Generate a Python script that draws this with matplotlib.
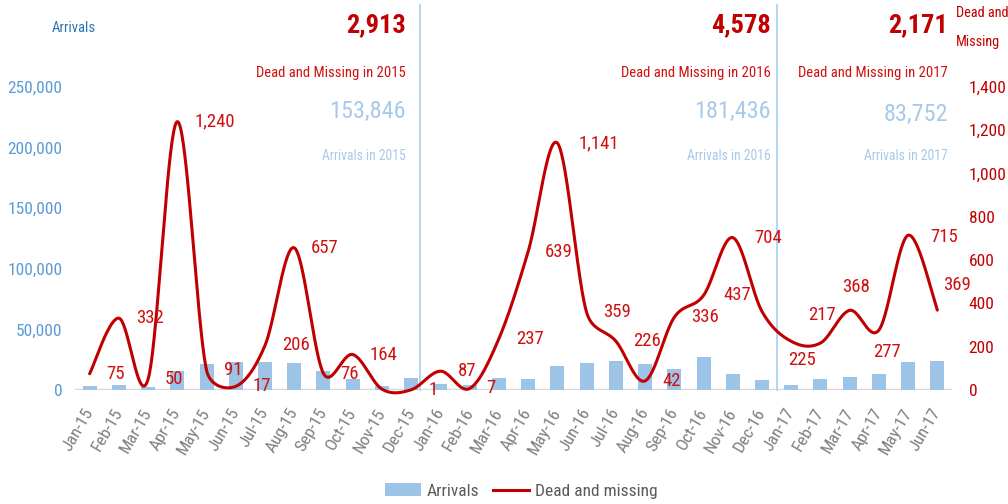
import matplotlib
matplotlib.use("Agg")
import matplotlib.pyplot as plt
from matplotlib import font_manager
from matplotlib.patches import Patch
from matplotlib.lines import Line2D
import numpy as np

# ---------------- data ----------------
months = ["Jan-15", "Feb-15", "Mar-15", "Apr-15", "May-15", "Jun-15", "Jul-15", "Aug-15",
          "Sep-15", "Oct-15", "Nov-15", "Dec-15",
          "Jan-16", "Feb-16", "Mar-16", "Apr-16", "May-16", "Jun-16", "Jul-16", "Aug-16",
          "Sep-16", "Oct-16", "Nov-16", "Dec-16",
          "Jan-17", "Feb-17", "Mar-17", "Apr-17", "May-17", "Jun-17"]
arrivals = [3528, 4354, 2283, 16063, 21231, 22877, 23210, 22610, 15922, 8916, 3218, 9636,
            5273, 3828, 9676, 9149, 19957, 22371, 23552, 21294, 16975, 27384, 13581, 8428,
            4467, 8971, 10853, 12943, 22993, 23526]
dead_missing = [75, 332, 50, 1240, 91, 17, 206, 657, 76, 164, 4, 1,
                87, 7, 237, 639, 1141, 359, 226, 42, 336, 437, 704, 363,
                225, 217, 368, 277, 715, 369]
years = ["2015", "2016", "2017"]
dead_totals = ["2,913", "4,578", "2,171"]
arrival_totals = ["153,846", "181,436", "83,752"]
left_ticks = [0, 50000, 100000, 150000, 200000, 250000]
right_ticks = [0, 200, 400, 600, 800, 1000, 1200, 1400]

# ---------------- font: prefer a condensed face ----------------
entries = font_manager.fontManager.ttflist
chosen = None
for key in ["LiberationSansNarrow", "RobotoCondensed", "Roboto_Condensed", "NotoSans-Condensed",
            "NotoSansCondensed", "OpenSans-Condensed", "OpenSans_Condensed", "DejaVuSansCondensed"]:
    for f in entries:
        fn = f.fname.replace(" ", "")
        if key.lower() in fn.lower() and f.style == "normal":
            chosen = f
            break
    if chosen:
        break
if chosen is not None:
    plt.rcParams["font.family"] = [chosen.name, "DejaVu Sans"]
    plt.rcParams["font.stretch"] = chosen.stretch
else:
    plt.rcParams["font.family"] = ["Lato", "DejaVu Sans"]

RED = "#C00000"
LRED = "#D01010"
BLUE_BAR = "#9DC3E6"
BLUE_TXT = "#5B9BD5"
BLUE_BIG = "#A7C9EA"
GREY = "#7F7F7F"

W, H = 1008, 504
fig = plt.figure(figsize=(W / 100, H / 100), dpi=100)
ax_l, ax_r, ax_t, ax_b = 75, 952, 87, 390
ax = fig.add_axes([ax_l / W, 1 - ax_b / H, (ax_r - ax_l) / W, (ax_b - ax_t) / H])
ax2 = ax.twinx()

x = np.arange(len(months))
ax.bar(x, arrivals, width=0.48, color=BLUE_BAR, zorder=2)
ax.set_xlim(-0.5, len(months) - 0.5)
ax.set_ylim(0, 250000)
ax.set_yticks(left_ticks)
ax.set_yticklabels([f"{v:,}" for v in left_ticks], color=BLUE_TXT, fontsize=12.5)
ax.set_xticks(x)
ax.set_xticklabels(months, rotation=60, ha="right", va="center",
                   rotation_mode="anchor", color=GREY, fontsize=12.5)
ax.tick_params(axis="x", length=0, pad=14)
ax.tick_params(axis="y", length=0, pad=9)
ax.axhline(0, color="#D9D9D9", lw=2.5, zorder=1)
for s in ax.spines.values():
    s.set_visible(False)
for s in ax2.spines.values():
    s.set_visible(False)

ax2.set_ylim(0, 1400)
ax2.set_xlim(-0.5, len(months) - 0.5)

# Excel-like smoothed line, built in pixel space through the data points
def smooth_path(axis, xs, ys, n=40, tension=1.0 / 6.0):
    pts = axis.transData.transform(np.column_stack([xs, ys]).astype(float))
    N = len(pts)
    dist = lambda a, b: float(np.hypot(*(b - a)))
    out = []
    for i in range(N - 1):
        p0 = pts[max(i - 1, 0)]; p1 = pts[i]; p2 = pts[i + 1]; p3 = pts[min(i + 2, N - 1)]
        d12 = dist(p1, p2)
        d02 = dist(p0, p2); d13 = dist(p1, p3)
        f1 = min(tension, 0.5 * d12 / d02) if d02 > 0 else tension
        f2 = min(tension, 0.5 * d12 / d13) if d13 > 0 else tension
        c1 = p1 + (p2 - p0) * f1
        c2 = p2 - (p3 - p1) * f2
        t = np.linspace(0, 1, n)[:, None]
        seg = ((1 - t) ** 3) * p1 + 3 * ((1 - t) ** 2) * t * c1 + 3 * (1 - t) * t ** 2 * c2 + t ** 3 * p2
        out.append(seg)
    out = np.vstack(out)
    return axis.transData.inverted().transform(out)

curve = smooth_path(ax2, x, dead_missing)
ax2.plot(curve[:, 0], curve[:, 1], color=RED, lw=2.2, zorder=3, clip_on=False,
         solid_capstyle="round")
ax2.set_yticks(right_ticks)
ax2.set_yticklabels([f"{v:,}" for v in right_ticks], color=RED, fontsize=12.5)
ax2.tick_params(axis="y", length=0, pad=12)

# data labels (offsets in pixels; style only)
hidden = {10, 23}
special = {24: (11, -19, "center"), 25: (2, 28, "center"), 26: (6, 23, "center"),
           27: (8, -22, "center"), 28: (22, -2, "left"), 29: (6, 25, "left"),
           22: (22, 0, "left"), 21: (20, 0, "left"), 16: (21, 0, "left")}
for i, v in enumerate(dead_missing):
    if i in hidden:
        continue
    dx, dy, ha = special.get(i, (17, 0, "left"))
    ax2.annotate(f"{v:,}", (x[i], v), xytext=(dx, dy), textcoords="offset pixels",
                 ha=ha, va="center", color=LRED, fontsize=13.5, zorder=4,
                 annotation_clip=False)

# year separators
for xv in [11.3, 23.5]:
    ax.plot([xv, xv], [0, 1.27], color="#A9D4F5", lw=1.3,
            transform=ax.get_xaxis_transform(), clip_on=False, zorder=1)

def ft(px, py, s, **kw):
    fig.text(px / W, 1 - py / H, s, **kw)

for right_x, yr, dt, at, yoff in zip([406, 771, 948], years, dead_totals, arrival_totals, [0, 0, 3]):
    ft(right_x, 25, dt, ha="right", va="center", color=RED, fontsize=19, fontweight="bold")
    ft(right_x, 73, f"Dead and Missing in {yr}", ha="right", va="center", color=LRED, fontsize=10.5)
    ft(right_x, 111 + yoff, at, ha="right", va="center", color=BLUE_BIG, fontsize=17.5)
    ft(right_x, 156, f"Arrivals in {yr}", ha="right", va="center", color=BLUE_BIG, fontsize=9.8)

ft(52, 28, "Arrivals", ha="left", va="center", color="#2E75B6", fontsize=10.5)
ft(956, 13, "Dead and", ha="left", va="center", color=RED, fontsize=10.3)
ft(956, 42, "Missing", ha="left", va="center", color=RED, fontsize=10.3)

handles = [Patch(facecolor=BLUE_BAR, edgecolor="none"), Line2D([0], [0], color=RED, lw=2.2)]
fig.legend(handles, ["Arrivals", "Dead and missing"], loc="center",
           bbox_to_anchor=(521 / W, 1 - 491 / H), ncol=2, frameon=False,
           fontsize=12.5, handlelength=2.1, handleheight=0.75, columnspacing=0.8,
           handletextpad=0.3, labelcolor="#595959")

fig.savefig("out.png", dpi=100, facecolor="white")
